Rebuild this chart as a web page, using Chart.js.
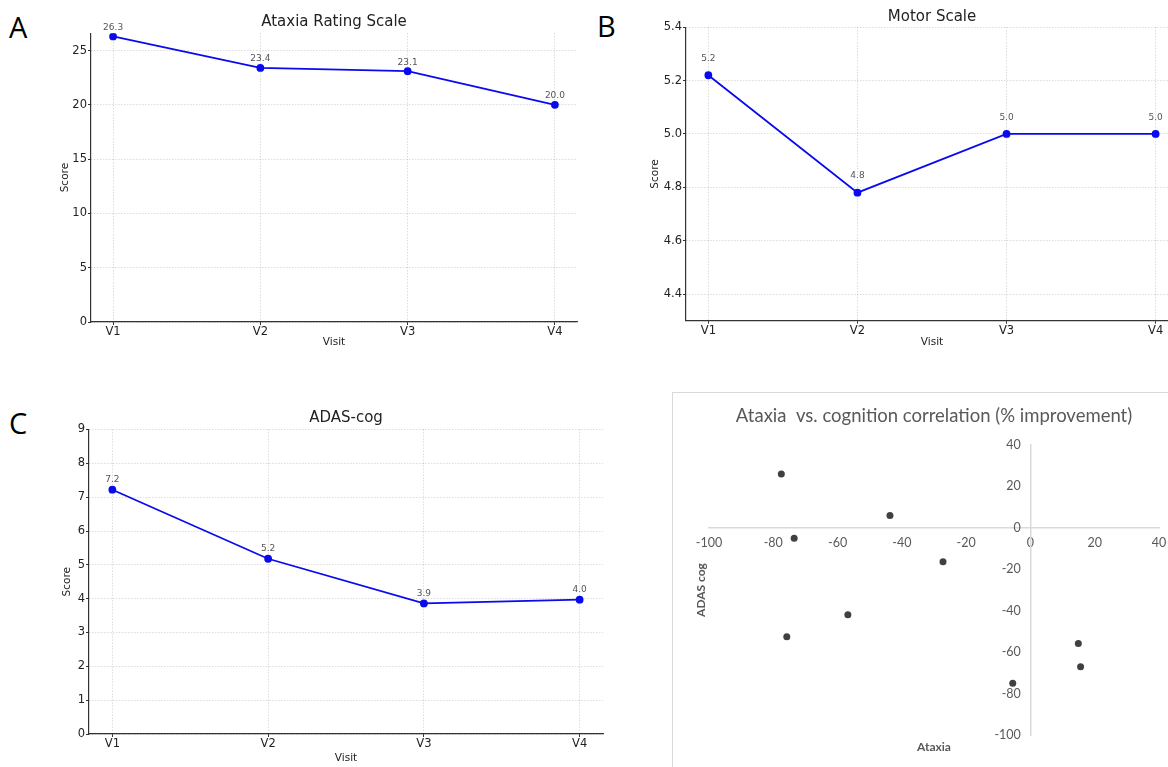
<!DOCTYPE html>
<html>
<head>
<meta charset="utf-8">
<script src="https://cdn.jsdelivr.net/npm/chart.js@4.4.1/dist/chart.umd.min.js"></script>
<style>
body{margin:0;width:1168px;height:767px;overflow:hidden;background:#fff;position:relative}
canvas{position:absolute}
.lettre{position:absolute;font-family:"Open Sans";font-size:29px;line-height:29px;color:#000}
#cadreD{position:absolute;left:672px;top:392px;width:530px;height:400px;border:1.5px solid #d9d9d9;box-sizing:border-box}
</style>
</head>
<body>
<div class="lettre" style="left:9px;top:12px">A</div>
<div class="lettre" style="left:597px;top:11px">B</div>
<div class="lettre" style="left:9px;top:408px">C</div>
<div id="cadreD"></div>
<canvas id="cA" width="590" height="362" style="left:0;top:0"></canvas>
<canvas id="cB" width="610" height="362" style="left:580px;top:0"></canvas>
<canvas id="cC" width="620" height="387" style="left:0;top:380px"></canvas>
<canvas id="cD" width="508" height="375" style="left:672px;top:392px"></canvas>
<script>
// donnees
var visites = ['V1', 'V2', 'V3', 'V4']
var ataxie = [26.3, 23.4, 23.1, 20.0]
var moteur = [5.22, 4.78, 5.0, 5.0]
var adas = [7.22, 5.18, 3.86, 3.97]
var gradA = [0, 5, 10, 15, 20, 25]
var gradB = [4.4, 4.6, 4.8, 5.0, 5.2, 5.4]
var gradC = [0, 1, 2, 3, 4, 5, 6, 7, 8, 9]

// % amelioration (panneau D)
var ataxiePct = [-77.5, -73.5, -43.7, -27.2, -56.8, -75.8, 14.9, 15.6, -5.5]
var adasPct = [26, -5, 6, -16.4, -42, -52.6, -55.8, -67, -75]
var gradD = [-100, -80, -60, -40, -20, 0, 20, 40]

var police = '"DejaVu Sans"'

// valeurs au dessus des points
var etiquettes = {
    id: 'etiquettes',
    afterDatasetsDraw: function(chart, args, opts) {
        var ctx = chart.ctx
        var meta = chart.getDatasetMeta(0)
        var ds = chart.data.datasets[0]
        ctx.save()
        ctx.font = '9px ' + police
        ctx.fillStyle = '#555'
        ctx.textAlign = 'center'
        ctx.textBaseline = 'middle'
        meta.data.forEach(function(pt, i) {
            ctx.fillText(ds.data[i].y.toFixed(1), pt.x, pt.y - opts.decalage)
        })
        ctx.restore()
    }
}

function courbe(id, valeurs, grad, ymin, ymax, titre, g) {
    var chart = new Chart(document.getElementById(id), {
        type: 'line',
        data: {
            datasets: [{
                data: valeurs.map(function(v, i) { return {x: i, y: v} }),
                borderColor: '#0a0aee',
                backgroundColor: '#0a0aee',
                borderWidth: 1.8,
                pointRadius: 3,
                pointHoverRadius: 3,
                tension: 0
            }]
        },
        options: {
            responsive: false,
            animation: false,
            events: [],
            layout: {padding: {left: 0, right: g.droite, top: 0, bottom: 0}},
            plugins: {
                legend: {display: false},
                tooltip: {enabled: false},
                etiquettes: {decalage: g.decalage},
                title: {
                    display: true,
                    text: titre,
                    fullSize: false,
                    color: '#222',
                    font: {family: police, size: 15, weight: 'normal'},
                    padding: {top: g.titreHaut, bottom: g.titreBas}
                }
            },
            scales: {
                x: {
                    type: 'linear',
                    min: -0.15,
                    max: 3.15,
                    afterBuildTicks: function(s) { s.ticks = visites.map(function(v, i) { return {value: i} }) },
                    afterFit: function(s) { s.height = g.hautX },
                    ticks: {
                        callback: function(v) { return visites[v] },
                        color: '#222',
                        font: {family: police, size: 11.5},
                        padding: 0,
                        maxRotation: 0
                    },
                    grid: {color: 'rgba(0,0,0,0.22)', lineWidth: 0.8, tickLength: 3, tickColor: '#333', tickWidth: 1, tickBorderDash: []},
                    border: {display: true, color: '#333', width: 1.2, dash: [1.2, 1.8]},
                    title: {display: true, text: 'Visit', color: '#222', font: {family: police, size: 10.5}, padding: {top: 0, bottom: g.visitBas}}
                },
                y: {
                    min: ymin,
                    max: ymax,
                    afterBuildTicks: function(s) { s.ticks = grad.map(function(v) { return {value: v} }) },
                    afterFit: function(s) { s.width = g.largeY },
                    ticks: {
                        callback: function(v) { return g.format(v) },
                        color: '#222',
                        font: {family: police, size: 11.5},
                        padding: 1
                    },
                    grid: {color: 'rgba(0,0,0,0.22)', lineWidth: 0.8, tickLength: 3, tickColor: '#333', tickWidth: 1, tickBorderDash: []},
                    border: {display: true, color: '#333', width: 1.2, dash: [1.2, 1.8]},
                    title: {display: true, text: 'Score', color: '#222', font: {family: police, size: 10.5}, padding: {top: g.scoreX, bottom: 0}}
                }
            }
        },
        plugins: [etiquettes]
    })
    return chart
}

function entier(v) { return String(v) }
function decimal(v) { return v.toFixed(1) }

var chartA = courbe('cA', ataxie, gradA, 0, 26.6, 'Ataxia Rating Scale',
    {droite: 13, titreHaut: 13.6, titreBas: 1.6, hautX: 40, visitBas: 13.4, largeY: 91, scoreX: 59.4, decalage: 9, format: entier})
var chartB = courbe('cB', moteur, gradB, 4.3, 5.4, 'Motor Scale',
    {droite: 12, titreHaut: 8.6, titreBas: 0.6, hautX: 41.3, visitBas: 13.4, largeY: 106, scoreX: 69.4, decalage: 16.5, format: decimal})
var chartC = courbe('cC', adas, gradC, 0, 9, 'ADAS-cog',
    {droite: 17, titreHaut: 29.3, titreBas: 2.2, hautX: 33, visitBas: 2.7, largeY: 89, scoreX: 61.4, decalage: 10, format: entier})

// titres d'axes du nuage de points
var titresD = {
    id: 'titresD',
    afterDraw: function(chart) {
        var ctx = chart.ctx
        var a = chart.chartArea
        ctx.save()
        ctx.fillStyle = '#595959'
        ctx.font = 'bold 12px Lato'
        ctx.textAlign = 'center'
        ctx.textBaseline = 'middle'
        ctx.fillText('Ataxia', (a.left + a.right) / 2, a.bottom + 11.7)
        ctx.translate(a.left - 8.3, (a.top + a.bottom) / 2)
        ctx.rotate(-Math.PI / 2)
        ctx.fillText('ADAS cog', 0, 0)
        ctx.restore()
    }
}

var axeD = {
    type: 'linear',
    min: -100,
    max: 40,
    afterBuildTicks: function(s) { s.ticks = gradD.map(function(v) { return {value: v} }) },
    ticks: {color: '#595959', font: {family: 'Lato', size: 12.5}, padding: 7.5},
    grid: {display: true, drawOnChartArea: false, drawTicks: false},
    border: {display: true, color: '#d9d9d9', width: 1.5}
}

var chartD = new Chart(document.getElementById('cD'), {
    type: 'scatter',
    data: {
        datasets: [{
            data: ataxiePct.map(function(x, i) { return {x: x, y: adasPct[i]} }),
            backgroundColor: '#404040',
            borderWidth: 0,
            pointRadius: 3.5,
            pointHoverRadius: 3.5
        }]
    },
    options: {
        responsive: false,
        animation: false,
        events: [],
        layout: {padding: {left: 37, right: 21, top: 0, bottom: 32}},
        plugins: {
            legend: {display: false},
            tooltip: {enabled: false},
            title: {
                display: true,
                text: 'Ataxia  vs. cognition correlation (% improvement)',
                color: '#595959',
                font: {family: 'Lato', size: 18.5, weight: 'normal'},
                padding: {top: 12.9, bottom: 17.9}
            }
        },
        scales: {
            x: Object.assign({}, axeD, {position: {y: 0}}),
            y: Object.assign({}, axeD, {position: {x: 0}, ticks: {color: '#595959', font: {family: 'Lato', size: 12.5}, callback: function(v) { return v + '   ' }}})
        }
    },
    plugins: [titresD]
})
</script>
</body>
</html>
